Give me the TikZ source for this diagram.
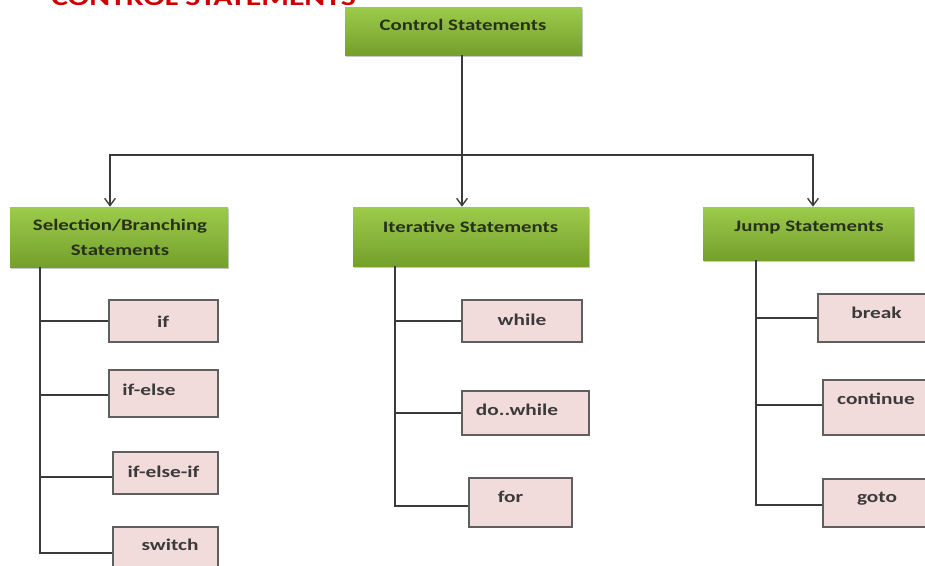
\documentclass[tikz,border=0pt]{standalone}
\usepackage{fontspec}
\setmainfont{Carlito}[FakeStretch=1.3]
\usetikzlibrary{arrows.meta,shadows}

\definecolor{leafTop}{HTML}{9DCB4B}
\definecolor{leafBot}{HTML}{74A02B}
\definecolor{leafInk}{HTML}{26301A}
\definecolor{pinkFill}{HTML}{F2DCDB}
\definecolor{pinkEdge}{HTML}{5F5F5F}
\definecolor{pinkInk}{HTML}{3A3A3A}
\definecolor{wire}{HTML}{3A3A3A}
\definecolor{titleRed}{HTML}{CC0000}

\tikzset{
  sz/.style n args={2}{minimum width=#1*0.75pt, minimum height=#2*0.75pt},
  greenbox/.style={rectangle, inner sep=0pt, top color=leafTop, bottom color=leafBot,
    draw=none, drop shadow={shadow xshift=0.5pt, shadow yshift=-1.8pt, opacity=0.3, fill=black!70}},
  pinkbox/.style={rectangle, inner sep=0pt, fill=pinkFill, draw=pinkEdge, line width=0.9pt},
  greentext/.style={inner sep=0pt, text=leafInk, font=\fontsize{12}{12}\selectfont\bfseries,
    text height=8.5pt, text depth=0pt},
  pinktext/.style={inner sep=0pt, text=pinkInk, font=\fontsize{12.3}{12}\selectfont\bfseries,
    text height=8.5pt, text depth=0pt},
  link/.style={draw=wire, line width=1pt},
  arr/.style={-{Straight Barb[length=5.5pt, width=8pt, line width=1pt]}},
  headline/.style={inner sep=0pt, text=titleRed, font=\fontsize{18.3}{18}\selectfont\bfseries}
}

\begin{document}
\begin{tikzpicture}[x=0.75pt, y=-0.75pt]
  \clip (0,0) rectangle (925,565);
  \fill[white] (0,0) rectangle (925,565);

  % heading
  \node[headline, anchor=base west] (heading) at (51,5) {CONTROL STATEMENTS};

  % top level
  \node[greenbox, sz={237}{48}] (root) at (463.5,31) {};
  \node[greentext] (rootT) at (463,25) {Control Statements};

  % second level
  \node[greenbox, sz={218}{60}] (sel) at (119,237) {};
  \node[inner sep=0pt, text=leafInk, font=\fontsize{12}{18.75}\selectfont\bfseries, align=center]
    (selT) at (120,237.5) {Selection/Branching\\Statements};
  \node[greenbox, sz={236}{59}] (iter) at (471,236.5) {};
  \node[greentext] (iterT) at (470.5,226.5) {Iterative Statements};
  \node[greenbox, sz={211}{53}] (jump) at (808.5,233.5) {};
  \node[greentext] (jumpT) at (809,226) {Jump Statements};

  % selection leaves
  \node[pinkbox, sz={109}{42}] (ifN) at (163.5,321) {};
  \node[pinktext] (ifT) at (163,322) {if};
  \node[pinkbox, sz={109}{47}] (ifelse) at (163.5,393.5) {};
  \node[pinktext] (ifelseT) at (149,390) {if-else};
  \node[pinkbox, sz={105}{42}] (ifelseif) at (165.5,473) {};
  \node[pinktext] (ifelseifT) at (163.5,472) {if-else-if};
  \node[pinkbox, sz={105}{43}] (switch) at (165.5,548.5) {};
  \node[pinktext] (switchT) at (170,545) {switch};

  % iterative leaves
  \node[pinkbox, sz={120}{42}] (while) at (522,321) {};
  \node[pinktext] (whileT) at (522,320) {while};
  \node[pinkbox, sz={127}{44}] (dowhile) at (525.5,413) {};
  \node[pinktext] (dowhileT) at (517,410) {do..while};
  \node[pinkbox, sz={103}{49}] (forN) at (520.5,502.5) {};
  \node[pinktext] (forT) at (510.5,497) {for};

  % jump leaves
  \node[pinkbox, sz={118}{48}] (break) at (877,318) {};
  \node[pinktext] (breakT) at (876.5,313) {break};
  \node[pinkbox, sz={108}{55}] (continue) at (877,407.5) {};
  \node[pinktext] (continueT) at (876,399) {continue};
  \node[pinkbox, sz={108}{48}] (goto) at (877,503) {};
  \node[pinktext] (gotoT) at (877,497) {goto};

  % distribution bus from the top box
  \coordinate (hub) at (462,155);
  \coordinate (dropL) at (110,155);
  \coordinate (dropR) at (813,155);
  \draw[link] (root.south -| hub) -- (hub);
  \draw[link, arr] (hub) -- (hub |- iter.north);
  \draw[link, arr] (hub) -- (dropL) -- (dropL |- sel.north);
  \draw[link, arr] (hub) -- (dropR) -- (dropR |- jump.north);

  % spines down to the leaves
  \coordinate (spineS) at (40,0);
  \coordinate (spineI) at (395,0);
  \coordinate (spineJ) at (756,0);
  \coordinate (ifelseW) at ([yshift=-1.1pt]ifelse.west);
  \coordinate (switchW) at ([yshift=-3.4pt]switch.west);
  \coordinate (ifelseifW) at ([yshift=-3pt]ifelseif.west);
  \coordinate (forW) at ([yshift=-2.6pt]forN.west);
  \coordinate (continueW) at ([yshift=1.9pt]continue.west);
  \coordinate (gotoW) at ([yshift=-1.5pt]goto.west);

  \draw[link] (sel.south -| spineS) |- (switchW);
  \draw[link] (spineS |- ifN.west) -- (ifN.west);
  \draw[link] (spineS |- ifelseW) -- (ifelseW);
  \draw[link] (spineS |- ifelseifW) -- (ifelseifW);

  \draw[link] (iter.south -| spineI) |- (forW);
  \draw[link] (spineI |- while.west) -- (while.west);
  \draw[link] (spineI |- dowhile.west) -- (dowhile.west);

  \draw[link] (jump.south -| spineJ) |- (gotoW);
  \draw[link] (spineJ |- break.west) -- (break.west);
  \draw[link] (spineJ |- continueW) -- (continueW);
\end{tikzpicture}
\end{document}
